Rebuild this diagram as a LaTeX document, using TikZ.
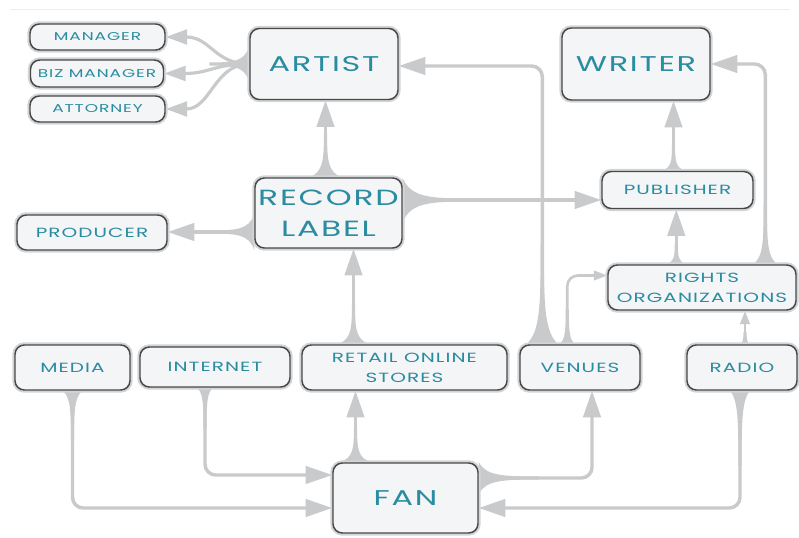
\documentclass[tikz,border=0pt]{standalone}
\usepackage{fontspec}
\usetikzlibrary{calc,arrows.meta}
\newfontfamily\lblfont[FakeStretch=1.5,LetterSpace=8]{Poppins}
\definecolor{boxfill}{RGB}{243,245,247}
\definecolor{boxline}{RGB}{70,72,74}
\definecolor{halo}{RGB}{210,212,214}
\definecolor{conncol}{RGB}{200,202,204}
\definecolor{lbltext}{RGB}{42,140,160}
\pgfdeclarelayer{bg}
\pgfsetlayers{bg,main}
\tikzset{
  box/.style={rounded corners=7pt, fill=boxfill, draw=boxline, line width=1.1pt,
    preaction={draw=halo, line width=4pt}, inner sep=0pt, align=center,
    text=lbltext},
  sml/.style={font=\lblfont\fontsize{8.5}{10}\selectfont},
  med/.style={font=\lblfont\fontsize{10}{15}\selectfont},
  big/.style={font=\lblfont\fontsize{16}{22}\selectfont},
  conn/.style={draw=conncol, line width=2.6pt, rounded corners=8pt,
    -{Triangle[length=20pt,width=13pt]}},
  connmd/.style={draw=conncol, line width=2.4pt,
    -{Triangle[length=16pt,width=11pt]}},
  connsm/.style={draw=conncol, line width=2pt, rounded corners=8pt,
    -{Triangle[length=10pt,width=7pt]}},
  pics/flare/.style 2 args={code={
    \fill[conncol] (0,-#1) .. controls (0.12*#2,-2) and (0.4*#2,-1.6) .. (#2,-1.6)
      -- (#2,1.6) .. controls (0.4*#2,1.6) and (0.12*#2,2) .. (0,#1) -- cycle;}}
}
\newcommand\bx[7]{\node[box,#6,minimum width={#4*0.75pt},minimum height={#5*0.75pt}] (#1) at (#2,#3) {#7};}
\begin{document}
\begin{tikzpicture}[x=0.75pt,y=-0.75pt]
\useasboundingbox (0,0) rectangle (799,538);
\draw[black!7, line width=0.6pt] (10,9) -- (790,9);
% nodes
\bx{manager}{97.5}{37}{135}{26}{sml}{MANAGER}
\bx{biz}{97}{73.5}{133}{27}{sml}{BIZ MANAGER}
\bx{attorney}{97.5}{109}{135}{26}{sml}{ATTORNEY}
\bx{artist}{324}{64}{148}{71}{big}{ARTIST}
\bx{rl}{328.5}{213}{147}{70}{font=\lblfont\fontsize{16.5}{23}\selectfont}{RECORD\\LABEL}
\bx{producer}{92}{232.5}{150}{35}{med}{PRODUCER}
\bx{writer}{636}{64}{148}{72}{big}{WRITER}
\bx{publisher}{677.5}{190}{151}{37}{med}{PUBLISHER}
\bx{rights}{702}{287.5}{188}{45}{med}{RIGHTS\\ORGANIZATIONS}
\bx{media}{72.5}{367.5}{115}{45}{med}{MEDIA}
\bx{internet}{215}{367}{150}{40}{med}{INTERNET}
\bx{retail}{404.5}{367.5}{205}{45}{med}{RETAIL ONLINE\\STORES}
\bx{venues}{580}{367.5}{120}{45}{med}{VENUES}
\bx{radio}{742}{367.5}{110}{45}{med}{RADIO}
\bx{fan}{405.5}{498}{145}{70}{big}{FAN}
\begin{pgfonlayer}{bg}
% record label -> artist
\coordinate (s1) at ($(rl.north)+(-3,0)$);
\pic[rotate=90] at (s1) {flare={16}{45}};
\draw[conn] (s1) -- (s1 |- artist.south);
% artist -> manager, biz, attorney
\pic[rotate=180] at (artist.west) {flare={18}{40}};
\draw[connmd] (artist.west) .. controls ($(artist.west)+(-35,0)$) and ($(manager.east)+(45,0)$) .. (manager.east);
\draw[connmd] (artist.west) .. controls ($(artist.west)+(-35,0)$) and ($(biz.east)+(45,0)$) .. (biz.east);
\draw[connmd] (artist.west) .. controls ($(artist.west)+(-35,0)$) and ($(attorney.east)+(45,0)$) .. (attorney.east);
% record label -> producer
\coordinate (s3) at ($(rl.west)+(0,19)$);
\pic[rotate=180] at (s3) {flare={18}{45}};
\draw[conn] (s3) -- (s3 -| producer.east);
% record label -> publisher
\coordinate (s4) at ($(rl.east)+(0,-13)$);
\pic at (s4) {flare={22}{70}};
\draw[conn] (s4) -- (s4 -| publisher.west);
% publisher -> writer
\coordinate (s5) at ($(publisher.north)+(-4,0)$);
\pic[rotate=90] at (s5) {flare={12}{25}};
\draw[conn] (s5) -- (s5 |- writer.south);
% rights -> publisher
\coordinate (s6) at ($(rights.north west)+(69,0)$);
\pic[rotate=90] at (s6) {flare={10}{20}};
\draw[conn] (s6) -- (s6 |- publisher.south);
% rights -> writer
\coordinate (s7) at ($(rights.north west)+(158,0)$);
\pic[rotate=90] at (s7) {flare={12}{60}};
\draw[conn] (s7) |- (writer.east);
% venues -> artist
\coordinate (s8) at ($(venues.north west)+(23,0)$);
\pic[rotate=90] at (s8) {flare={16}{100}};
\draw[conn] (s8) |- ($(artist.east)+(0,2)$);
% venues -> rights
\coordinate (s9) at ($(venues.north west)+(48,0)$);
\pic[rotate=90] at (s9) {flare={8}{35}};
\draw[connsm] (s9) |- ($(rights.west)+(0,-12)$);
% retail -> record label
\coordinate (s10) at ($(retail.north)+(-51,0)$);
\pic[rotate=90] at (s10) {flare={16}{40}};
\draw[conn] (s10) -- (s10 |- rl.south);
% fan -> retail
\coordinate (s11) at ($(fan.north)+(-50,0)$);
\pic[rotate=90] at (s11) {flare={16}{35}};
\draw[conn] (s11) -- (s11 |- retail.south);
% fan -> venues
\coordinate (s12) at ($(fan.east)+(0,-20)$);
\pic at (s12) {flare={16}{60}};
\draw[conn] (s12) -| ($(venues.south)+(12,0)$);
% media -> fan
\pic[rotate=-90] at (media.south) {flare={10}{50}};
\draw[conn] (media.south) |- ($(fan.west)+(0,10)$);
% internet -> fan
\coordinate (s14) at ($(internet.south)+(-10,0)$);
\pic[rotate=-90] at (s14) {flare={8}{40}};
\draw[conn] (s14) |- ($(fan.west)+(0,-23)$);
% radio -> fan
\coordinate (s15) at ($(radio.south)+(-2,0)$);
\pic[rotate=-90] at (s15) {flare={10}{75}};
\draw[conn] (s15) |- ($(fan.east)+(0,10)$);
% radio -> rights
\coordinate (s16) at ($(radio.north)+(3,0)$);
\pic[rotate=90] at (s16) {flare={5}{12}};
\draw[connsm] (s16) -- (s16 |- rights.south);
\end{pgfonlayer}
\end{tikzpicture}
\end{document}
